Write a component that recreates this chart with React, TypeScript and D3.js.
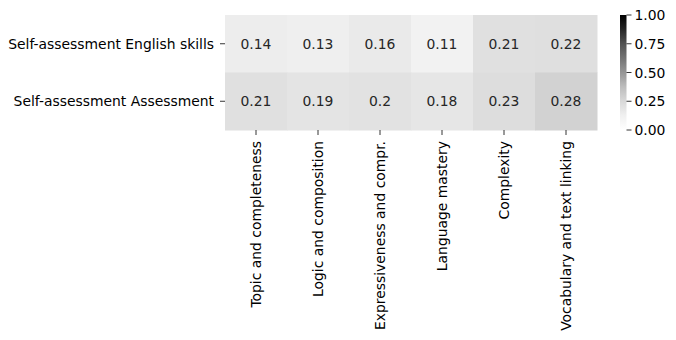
import React, { useEffect, useRef } from "react";
import * as d3 from "d3";

const rowLabels = ["Self-assessment English skills", "Self-assessment Assessment"];
const colLabels = [
  "Topic and completeness",
  "Logic and composition",
  "Expressiveness and compr.",
  "Language mastery",
  "Complexity",
  "Vocabulary and text linking",
];
const englishSkills = [0.14, 0.13, 0.16, 0.11, 0.21, 0.22];
const assessment = [0.21, 0.19, 0.2, 0.18, 0.23, 0.28];
const cbTicks = [0, 0.25, 0.5, 0.75, 1];
// matplotlib "Greys" anchor colours
const greys = ["#ffffff", "#f0f0f0", "#d9d9d9", "#bdbdbd", "#969696", "#737373", "#525252", "#252525", "#000000"];

const App = () => {
  const svgRef = useRef<SVGSVGElement>(null);

  useEffect(() => {
    const svg = d3.select(svgRef.current);
    svg.selectAll("*").remove();
    const font = "DejaVu Sans";
    const fs = 13.9;
    const left = 225;
    const top = 15;
    const w = 372;
    const h = 115;
    const rows = [englishSkills, assessment];

    const x = d3.scaleBand().domain(colLabels).range([left, left + w]);
    const y = d3.scaleBand().domain(rowLabels).range([top, top + h]);
    const color = d3
      .scaleLinear<string>()
      .domain(greys.map((_, i) => i / (greys.length - 1)))
      .range(greys)
      .interpolate(d3.interpolateRgb);

    const g = svg.append("g");
    rows.forEach((vals, ri) => {
      vals.forEach((v, ci) => {
        g.append("rect")
          .attr("x", x(colLabels[ci])!)
          .attr("y", y(rowLabels[ri])!)
          .attr("width", x.bandwidth() + 0.5)
          .attr("height", y.bandwidth() + 0.5)
          .attr("fill", color(v));
        g.append("text")
          .attr("x", x(colLabels[ci])! + x.bandwidth() / 2)
          .attr("y", y(rowLabels[ri])! + y.bandwidth() / 2)
          .attr("text-anchor", "middle")
          .attr("dominant-baseline", "central")
          .attr("font-family", font)
          .attr("font-size", fs)
          .attr("fill", "#262626")
          .text(String(v));
      });
    });

    // y axis
    rowLabels.forEach((r) => {
      const cy = y(r)! + y.bandwidth() / 2;
      svg.append("line")
        .attr("x1", left - 5).attr("x2", left)
        .attr("y1", cy).attr("y2", cy)
        .attr("stroke", "#000").attr("stroke-width", 0.8);
      svg.append("text")
        .attr("x", left - 11).attr("y", cy)
        .attr("text-anchor", "end")
        .attr("dominant-baseline", "central")
        .attr("font-family", font).attr("font-size", fs)
        .text(r);
    });

    // x axis
    colLabels.forEach((c) => {
      const cx = x(c)! + x.bandwidth() / 2;
      svg.append("line")
        .attr("x1", cx).attr("x2", cx)
        .attr("y1", top + h).attr("y2", top + h + 5)
        .attr("stroke", "#000").attr("stroke-width", 0.8);
      svg.append("text")
        .attr("transform", `translate(${cx},${top + h + 11}) rotate(-90)`)
        .attr("text-anchor", "end")
        .attr("dominant-baseline", "central")
        .attr("font-family", font).attr("font-size", fs)
        .text(c);
    });

    // colorbar
    const cbX = 620;
    const cbW = 6.5;
    const cbScale = d3.scaleLinear().domain([0, 1]).range([top + h, top]);
    const defs = svg.append("defs");
    const grad = defs.append("linearGradient")
      .attr("id", "cbgrad")
      .attr("x1", 0).attr("y1", 1).attr("x2", 0).attr("y2", 0);
    greys.forEach((c, i) => {
      grad.append("stop").attr("offset", i / (greys.length - 1)).attr("stop-color", c);
    });
    svg.append("rect")
      .attr("x", cbX).attr("y", top)
      .attr("width", cbW).attr("height", h)
      .attr("fill", "url(#cbgrad)");
    cbTicks.forEach((t) => {
      const ty = cbScale(t);
      svg.append("line")
        .attr("x1", cbX + cbW).attr("x2", cbX + cbW + 5)
        .attr("y1", ty).attr("y2", ty)
        .attr("stroke", "#000").attr("stroke-width", 0.8);
      svg.append("text")
        .attr("x", cbX + cbW + 8).attr("y", ty)
        .attr("dominant-baseline", "central")
        .attr("font-family", font).attr("font-size", fs)
        .text(t.toFixed(2));
    });
  }, []);

  return (
    <svg
      ref={svgRef}
      width={676}
      height={340}
      style={{ position: "absolute", left: 0, top: 0 }}
    />
  );
};

export default App;
